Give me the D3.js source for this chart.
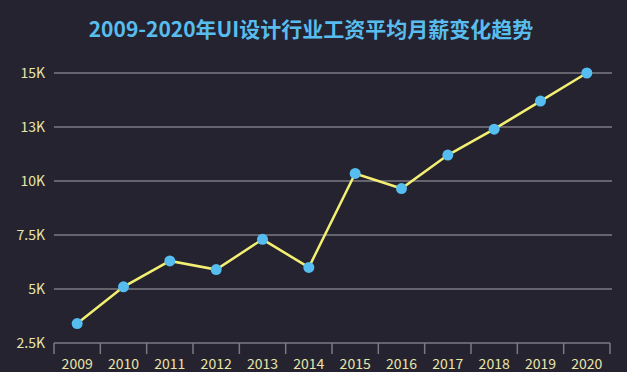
<!DOCTYPE html>
<html>
<head>
<meta charset="utf-8">
<title>UI设计行业工资</title>
<script src="https://cdn.jsdelivr.net/npm/d3@7"></script>
<style>
  html, body { margin: 0; padding: 0; background: #25232f; }
  svg { display: block; font-family: "Noto Sans CJK SC", "Noto Sans", sans-serif; }
</style>
</head>
<body>
<div id="chart"></div>
<script>
// data
var years = ["2009", "2010", "2011", "2012", "2013", "2014", "2015", "2016", "2017", "2018", "2019", "2020"];
var salary = [3400, 5100, 6300, 5900, 7300, 6000, 10350, 9650, 11200, 12400, 13700, 15000];
var yTicks = [2500, 5000, 7500, 10000, 12500, 15000];
var yTickLabels = ["2.5K", "5K", "7.5K", "10K", "13K", "15K"];
var title = "2009-2020年UI设计行业工资平均月薪变化趋势";

var width = 627, height = 372;
var margin = {top: 73, right: 17, bottom: 29, left: 54};

var svg = d3.select("#chart").append("svg")
    .attr("width", width)
    .attr("height", height);

svg.append("rect").attr("width", width).attr("height", height).attr("fill", "#25232f");

svg.append("text")
    .attr("x", 311)
    .attr("y", 37)
    .attr("text-anchor", "middle")
    .attr("font-size", 21)
    .attr("font-weight", "bold")
    .attr("fill", "#58bdee")
    .text(title);

var x = d3.scaleBand()
    .domain(years)
    .range([margin.left, width - margin.right]);

var y = d3.scaleLinear()
    .domain([2500, 15000])
    .range([height - margin.bottom, margin.top]);

// gridlines
svg.append("g")
    .selectAll("line")
    .data(yTicks.slice(1))
    .enter()
    .append("line")
    .attr("x1", margin.left)
    .attr("x2", width - margin.right + 2)
    .attr("y1", d => y(d))
    .attr("y2", d => y(d))
    .attr("stroke", "#7b7a85")
    .attr("stroke-width", 1.5);

// y labels
svg.append("g")
    .selectAll("text")
    .data(yTicks)
    .enter()
    .append("text")
    .attr("x", 45)
    .attr("y", d => y(d))
    .attr("dy", "0.35em")
    .attr("text-anchor", "end")
    .attr("font-size", 14)
    .attr("fill", "#e8e6a8")
    .text((d, i) => yTickLabels[i]);

// x axis
var xAxis = svg.append("g")
    .attr("transform", "translate(0," + y(2500) + ")");

xAxis.append("line")
    .attr("x1", margin.left)
    .attr("x2", width - margin.right)
    .attr("stroke", "#7b7a85")
    .attr("stroke-width", 1.5);

var bounds = years.map(d => x(d)).concat([x(years[years.length - 1]) + x.bandwidth()]);
xAxis.selectAll("line.tick")
    .data(bounds)
    .enter()
    .append("line")
    .attr("class", "tick")
    .attr("x1", d => d)
    .attr("x2", d => d)
    .attr("y1", 0)
    .attr("y2", 11)
    .attr("stroke", "#7b7a85")
    .attr("stroke-width", 1.5);

xAxis.selectAll("text")
    .data(years)
    .enter()
    .append("text")
    .attr("x", d => x(d) + x.bandwidth() / 2)
    .attr("y", 21)
    .attr("dy", "0.35em")
    .attr("text-anchor", "middle")
    .attr("font-size", 14)
    .attr("fill", "#e8e6a8")
    .text(d => d);

// line + points
var line = d3.line()
    .x((d, i) => x(years[i]) + x.bandwidth() / 2)
    .y(d => y(d));

svg.append("path")
    .datum(salary)
    .attr("d", line)
    .attr("fill", "none")
    .attr("stroke", "#f2ef72")
    .attr("stroke-width", 2.5);

svg.append("g")
    .selectAll("circle")
    .data(salary)
    .enter()
    .append("circle")
    .attr("cx", (d, i) => x(years[i]) + x.bandwidth() / 2)
    .attr("cy", d => y(d))
    .attr("r", 5.5)
    .attr("fill", "#55bdf0");
</script>
</body>
</html>
